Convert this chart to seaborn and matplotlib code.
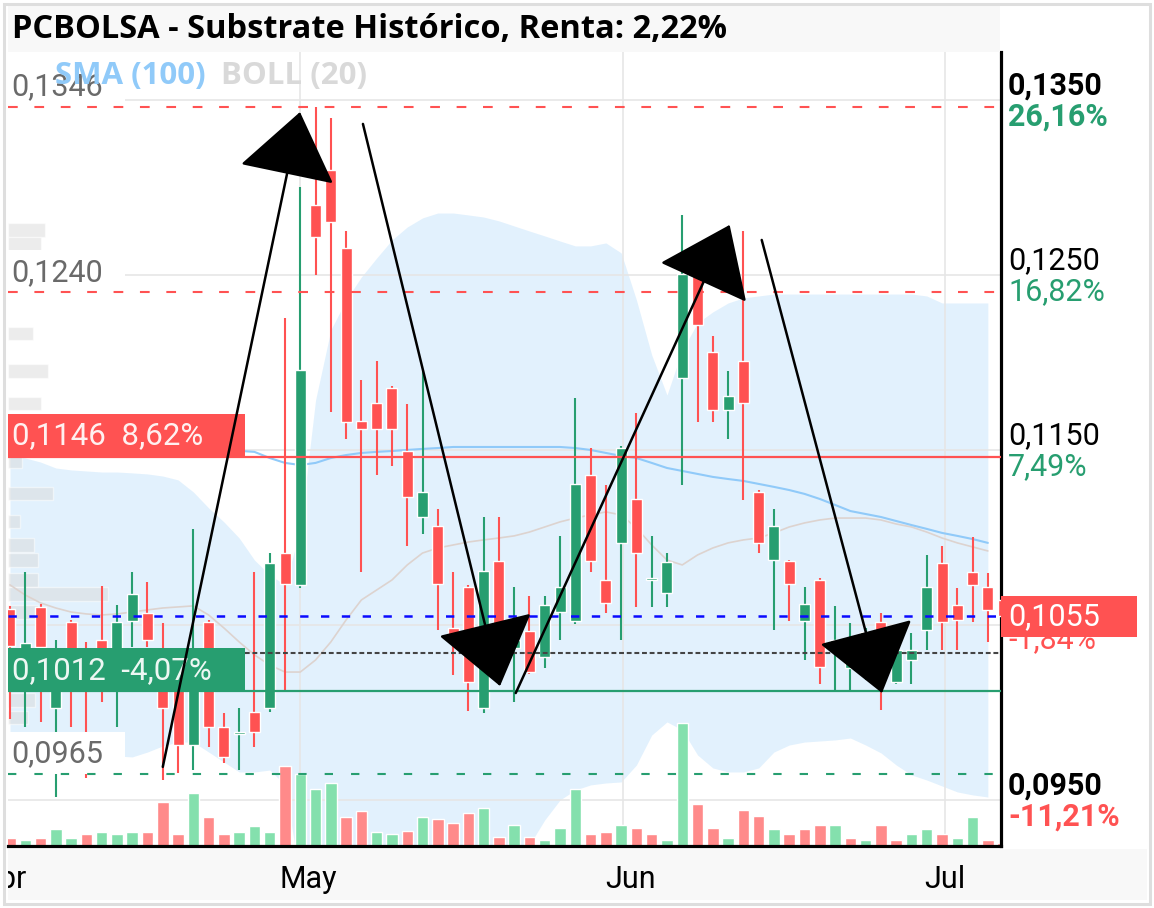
import numpy as np
import matplotlib
matplotlib.use("Agg")
import matplotlib.pyplot as plt
import matplotlib.transforms as mtransforms
from matplotlib.patches import Rectangle, FancyArrowPatch, ArrowStyle
import seaborn as sns

# ---------------- data ----------------
opens = [0.10590, 0.10300, 0.10603, 0.10026, 0.10517, 0.10329, 0.10414, 0.10243, 0.10523, 0.10569,
         0.10186, 0.10140, 0.09814, 0.10517, 0.09917, 0.09877, 0.10003, 0.10026, 0.10911, 0.10729,
         0.12900, 0.13100, 0.12654, 0.11666, 0.11769, 0.11854, 0.11494, 0.11117, 0.11066, 0.10483,
         0.10717, 0.10026, 0.10864, 0.10369, 0.10466, 0.10317, 0.10574, 0.10523, 0.11357, 0.10757,
         0.10969, 0.11220, 0.10757, 0.10683, 0.11911, 0.12500, 0.12060, 0.11729, 0.12009, 0.11260,
         0.10871, 0.10864, 0.10523, 0.10757, 0.10369, 0.10254, 0.10357, 0.10517, 0.10174, 0.10300,
         0.10471, 0.10854, 0.10614, 0.10803, 0.10717, 0.10643]
highs = [0.10610, 0.10803, 0.10620, 0.10414, 0.10529, 0.10403, 0.10721, 0.10614, 0.10803, 0.10746,
         0.10511, 0.10157, 0.11049, 0.10529, 0.09997, 0.10026, 0.10803, 0.10911, 0.12254, 0.13003,
         0.13460, 0.13397, 0.12751, 0.11900, 0.12009, 0.11866, 0.11763, 0.11951, 0.11163, 0.10803,
         0.10729, 0.11117, 0.11117, 0.10717, 0.10666, 0.10666, 0.11009, 0.11797, 0.11511, 0.11300,
         0.11523, 0.11711, 0.11009, 0.10911, 0.12843, 0.12574, 0.12151, 0.11951, 0.12751, 0.11271,
         0.11163, 0.10874, 0.10717, 0.10769, 0.10609, 0.10511, 0.10483, 0.10569, 0.10414, 0.10454,
         0.10900, 0.10951, 0.10711, 0.11003, 0.10797, 0.10660]
lows = [0.09960, 0.09917, 0.09946, 0.09517, 0.09917, 0.09626, 0.10060, 0.09917, 0.10374, 0.10374,
        0.09614, 0.09654, 0.09671, 0.09803, 0.09711, 0.09671, 0.09803, 0.10003, 0.10117, 0.10711,
        0.12500, 0.11717, 0.11563, 0.10803, 0.11357, 0.11409, 0.10951, 0.11020, 0.10471, 0.10214,
        0.10009, 0.09997, 0.10214, 0.10060, 0.10220, 0.10254, 0.10414, 0.10506, 0.10803, 0.10569,
        0.10414, 0.10603, 0.10603, 0.10603, 0.11300, 0.11660, 0.11660, 0.11563, 0.11214, 0.10911,
        0.10471, 0.10523, 0.10300, 0.10163, 0.10123, 0.10123, 0.10186, 0.10014, 0.10163, 0.10163,
        0.10357, 0.10357, 0.10357, 0.10517, 0.10403, 0.10400]
closes = [0.10380, 0.10397, 0.10374, 0.10197, 0.10271, 0.10243, 0.10254, 0.10517, 0.10677, 0.10414,
          0.10026, 0.09814, 0.10243, 0.09917, 0.09746, 0.09889, 0.09889, 0.10854, 0.10734, 0.11957,
          0.12717, 0.12803, 0.11660, 0.11620, 0.11620, 0.11620, 0.11231, 0.11260, 0.10734, 0.10414,
          0.10174, 0.10809, 0.10300, 0.10414, 0.10231, 0.10614, 0.10717, 0.11306, 0.10866, 0.10626,
          0.11511, 0.10911, 0.10769, 0.10860, 0.12506, 0.12214, 0.11729, 0.11809, 0.11769, 0.10969,
          0.11066, 0.10734, 0.10620, 0.10260, 0.10414, 0.10300, 0.10460, 0.10300, 0.10357, 0.10357,
          0.10717, 0.10517, 0.10529, 0.10729, 0.10586, 0.10550]

# volume in arbitrary units (max ~123)
volumes = [8, 6, 8, 17, 8, 12, 14, 12, 14, 14,
           44, 12, 53, 29, 12, 14, 20, 14, 80, 72,
           57, 63, 29, 35, 14, 12, 15, 29, 27, 23,
           33, 38, 9, 21, 9, 6, 18, 57, 12, 14,
           21, 18, 12, 6, 123, 42, 18, 8, 36, 30,
           17, 12, 17, 21, 21, 8, 6, 21, 6, 12,
           17, 12, 8, 29, 6, 3]
volume_up = [0, 1, 0, 1, 1, 0, 1, 1, 1, 0,
             0, 0, 1, 0, 0, 1, 1, 1, 0, 1,
             1, 1, 0, 0, 1, 1, 0, 1, 0, 0,
             0, 1, 0, 1, 0, 1, 1, 1, 0, 0,
             1, 0, 0, 1, 1, 0, 0, 1, 0, 0,
             1, 0, 0, 0, 1, 0, 1, 0, 0, 1,
             1, 0, 1, 1, 0, 0]

boll_upper = [0.11471, 0.11454, 0.11431, 0.11397, 0.11386, 0.11380, 0.11374, 0.11374, 0.11369, 0.11363,
              0.11351, 0.11329, 0.11260, 0.11169, 0.11089, 0.10997, 0.10871, 0.10786, 0.10729, 0.11043,
              0.11786, 0.12186, 0.12357, 0.12489, 0.12597, 0.12700, 0.12774, 0.12826, 0.12854, 0.12854,
              0.12843, 0.12831, 0.12809, 0.12780, 0.12751, 0.12723, 0.12694, 0.12666, 0.12666, 0.12683,
              0.12626, 0.12357, 0.12043, 0.11814, 0.12071, 0.12226, 0.12289, 0.12340, 0.12369, 0.12380,
              0.12391, 0.12391, 0.12391, 0.12391, 0.12391, 0.12391, 0.12391, 0.12391, 0.12391, 0.12391,
              0.12380, 0.12340, 0.12340, 0.12340, 0.12340]
boll_mid = [0.10729, 0.10671, 0.10626, 0.10597, 0.10574, 0.10563, 0.10557, 0.10563, 0.10574, 0.10586,
            0.10597, 0.10603, 0.10609, 0.10557, 0.10483, 0.10403, 0.10329, 0.10271, 0.10231, 0.10231,
            0.10300, 0.10403, 0.10529, 0.10643, 0.10700, 0.10757, 0.10843, 0.10911, 0.10940, 0.10957,
            0.10974, 0.10986, 0.10997, 0.11009, 0.11031, 0.11060, 0.11089, 0.11111, 0.11129, 0.11146,
            0.11129, 0.11054, 0.10957, 0.10871, 0.10843, 0.10900, 0.10940, 0.10969, 0.10986, 0.10997,
            0.11026, 0.11060, 0.11083, 0.11100, 0.11111, 0.11111, 0.11111, 0.11100, 0.11077, 0.11060,
            0.11031, 0.10997, 0.10969, 0.10946, 0.10923]
boll_lower = [0.09797, 0.09809, 0.09809, 0.09797, 0.09786, 0.09774, 0.09763, 0.09751, 0.09746, 0.09774,
              0.09809, 0.09831, 0.09831, 0.09774, 0.09717, 0.09660, 0.09660, 0.09671, 0.09586, 0.09043,
              0.08929, 0.08814, 0.08757, 0.08729, 0.08700, 0.08700, 0.08700, 0.08729, 0.08757, 0.08814,
              0.08871, 0.08929, 0.08986, 0.09100, 0.09243, 0.09386, 0.09500, 0.09557, 0.09586, 0.09597,
              0.09603, 0.09700, 0.09871, 0.09946, 0.09900, 0.09757, 0.09683, 0.09660, 0.09660, 0.09683,
              0.09774, 0.09814, 0.09831, 0.09837, 0.09843, 0.09854, 0.09814, 0.09769, 0.09700, 0.09643,
              0.09614, 0.09580, 0.09546, 0.09529, 0.09517]
sma100 = [0.11500, 0.11500, 0.11500, 0.11500, 0.11500, 0.11500, 0.11500, 0.11500, 0.11500, 0.11500,
          0.11500, 0.11500, 0.11500, 0.11500, 0.11500, 0.11495, 0.11489, 0.11454, 0.11426, 0.11414,
          0.11426, 0.11454, 0.11471, 0.11483, 0.11489, 0.11494, 0.11500, 0.11506, 0.11511, 0.11517,
          0.11517, 0.11517, 0.11517, 0.11517, 0.11517, 0.11517, 0.11517, 0.11511, 0.11500, 0.11483,
          0.11466, 0.11454, 0.11426, 0.11397, 0.11380, 0.11363, 0.11346, 0.11334, 0.11323, 0.11306,
          0.11289, 0.11271, 0.11249, 0.11220, 0.11186, 0.11151, 0.11134, 0.11117, 0.11094, 0.11071,
          0.11049, 0.11026, 0.11009, 0.10991, 0.10969]

# volume-at-price profile on the left edge
profile_price = [0.12757, 0.12677, 0.12163, 0.11951, 0.11763, 0.11437, 0.11249, 0.11089,
                 0.10957, 0.10871, 0.10757, 0.10677, 0.10574, 0.10071, 0.09969]
profile_size = [37, 33, 25, 40, 33, 14, 45, 12, 26, 30, 30, 100, 30, 27, 20]

# horizontal levels
level_high = [0.1346, 0.1240]
level_low = 0.0965
level_resist = 0.1146
level_support = 0.1012
level_avg = 0.1034
last_price = 0.1055

# drawn trend arrows: (x start, price start, x end, price end)
arrows = [(10.0, 0.09689, 18.98, 0.13431),
          (23.1, 0.13363, 32.07, 0.10151),
          (33.1, 0.10111, 47.1, 0.12786),
          (49.2, 0.12700, 57.07, 0.10111)]

right_ticks = [0.1350, 0.1250, 0.1150, 0.0950]
right_pcts = ["26,16%", "16,82%", "7,49%", "-11,21%"]
grid_prices = [0.1350, 0.1250, 0.1150, 0.1050, 0.0950]
month_grid = [19.0, 40.1, 61.2]
month_names = ["Apr", "May", "Jun", "Jul"]
month_label_pos = [-0.45, 19.5, 40.6, 61.2]

RED = "#ff5252"
GREEN = "#279e70"
VOL_RED = "#ff8a8a"
VOL_GREEN = "#84e0ad"
W, H = 1154, 908


def fmt(v):
    return f"{v:.4f}".replace(".", ",")


def px_rect(x0, y0, x1, y1):
    return [x0 / W, 1 - y1 / H, (x1 - x0) / W, (y1 - y0) / H]


sns.set_theme(style="white")
plt.rcParams["font.family"] = ["Roboto", "DejaVu Sans"]
plt.rcParams["lines.scale_dashes"] = False

fig = plt.figure(figsize=(W / 100, H / 100), dpi=100)
fig.patch.set_facecolor("white")

ax = fig.add_axes(px_rect(8, 52, 1001, 846))
ax.set_xlim(-0.13, 64.86)
ax.set_ylim(0.09237, 0.13774)
ax.set_facecolor("white")
for side in ["left", "top"]:
    ax.spines[side].set_visible(False)
for side in ["right", "bottom"]:
    ax.spines[side].set_color("black")
    ax.spines[side].set_linewidth(2.3)
ax.set_xticks([])
ax.set_yticks([])

idx = np.arange(len(opens))
bidx = np.arange(len(boll_upper))
ptrans = ax.get_yaxis_transform()   # x in axes fraction, y in price
xtrans = ax.get_xaxis_transform()   # x in data, y in axes fraction

# grid
for g in grid_prices:
    ax.axhline(g, color="#e6e6e6", lw=1.2, zorder=0.6)
for m in month_grid:
    ax.axvline(m, color="#e6e6e6", lw=1.2, zorder=0.6)

# bollinger band + lines
ax.fill_between(bidx, boll_lower, boll_upper, color="#2196f3", alpha=0.13, lw=0, zorder=0.5)
sns.lineplot(x=bidx, y=boll_mid, ax=ax, color="#ddd3cf", lw=1.2, zorder=1.5)
sns.lineplot(x=bidx, y=sma100, ax=ax, color="#90caf9", lw=1.5, zorder=1.5)

# volume profile on the left
ax.barh(profile_price, np.array(profile_size) / 993, height=0.00075, left=0,
        color="#dadada", alpha=0.5, transform=ptrans, zorder=0.8)

# volume bars at the bottom
VOL_TOP = 794
vcols = [VOL_GREEN if u else VOL_RED for u in volume_up]
ax.bar(idx, np.array(volumes) / VOL_TOP, width=0.75, bottom=0, color=vcols,
       transform=xtrans, zorder=1.2)

# candles
o = np.array(opens); c = np.array(closes)
ccols = [GREEN if cc >= oo else RED for oo, cc in zip(o, c)]
ax.vlines(idx, lows, highs, colors=ccols, lw=1.5, zorder=3)
body = np.maximum(np.abs(c - o), 0.00008)
ax.bar(idx, body, bottom=np.minimum(o, c), width=0.72, color=ccols, zorder=3.1)

# gray level labels on the left, with white backing
for lv in [level_high[0], level_high[1], level_low]:
    ax.add_patch(Rectangle((0, lv), 117 / 993, 0.0024, transform=ptrans,
                           facecolor="white", edgecolor="none", zorder=3.5))
    ax.annotate(fmt(lv), xy=(0, lv), xycoords=ptrans, xytext=(3, 20), textcoords="offset pixels",
                ha="left", va="center", fontsize=22, color="#6a6a6a", zorder=3.55)

# level lines
for lv in level_high:
    ax.axhline(lv, color=RED, lw=1.5, ls=(0, (7, 12)), zorder=3.6)
ax.axhline(level_low, color=GREEN, lw=1.5, ls=(0, (6, 13)), zorder=3.6)
ax.axhline(last_price, color="#0a0aff", lw=1.8, ls=(0, (6, 9)), zorder=3.6)
ax.axhline(level_avg, color="#444444", lw=1.5, ls=(0, (3.5, 2)), zorder=3.6)
ax.axhline(level_resist, color=RED, lw=1.6, zorder=3.6)
ax.axhline(level_support, color=GREEN, lw=1.6, zorder=3.6)

# coloured boxes for resistance / support
for lv, txt, col in [(level_resist, fmt(level_resist) + "  8,62%", RED),
                     (level_support, fmt(level_support) + "  -4,07%", GREEN)]:
    ax.add_patch(Rectangle((0, lv), 237 / 993, 0.00246, transform=ptrans,
                           facecolor=col, edgecolor="none", zorder=4))
    ax.annotate(txt, xy=(0, lv), xycoords=ptrans, xytext=(4, 21), textcoords="offset pixels",
                ha="left", va="center", fontsize=22.5, color="white", alpha=0.92, zorder=4.1)

# arrows
for x0, y0, x1, y1 in arrows:
    arr = FancyArrowPatch((x0, y0), (x1, y1),
                          arrowstyle=ArrowStyle("-|>", head_length=43, head_width=32),
                          mutation_scale=1, color="black", lw=1.8,
                          shrinkA=0, shrinkB=0, zorder=5)
    ax.add_patch(arr)

# legend text
ax.text(47 / 993, 0.13774 - 24 / 17500, "SMA (100)", transform=ptrans, color="#90caf9",
        fontsize=22.5, fontweight="bold", family=["Open Sans", "DejaVu Sans"], va="center", zorder=6)
ax.text(213 / 993, 0.13774 - 24 / 17500, "BOLL (20)", transform=ptrans, color="#d9d9d9",
        fontsize=22.5, fontweight="bold", family=["Open Sans", "DejaVu Sans"], va="center", zorder=6)

# right axis labels
for t, p in zip(right_ticks, right_pcts):
    bold = t in (right_ticks[0], right_ticks[-1])
    pcol = GREEN if not p.startswith("-") else RED
    ax.annotate(fmt(t), xy=(1, t), xycoords=ptrans, xytext=(7, 14), textcoords="offset pixels",
                ha="left", va="center", fontsize=22, color="black",
                fontweight="bold" if bold else "normal", annotation_clip=False)
    ax.annotate(p, xy=(1, t), xycoords=ptrans, xytext=(7, -17), textcoords="offset pixels",
                ha="left", va="center", fontsize=22, color=pcol,
                fontweight="bold" if bold else "normal", annotation_clip=False)

# current price box
ax.annotate("-1,84%", xy=(1, last_price), xycoords=ptrans, xytext=(7, -23),
            textcoords="offset pixels", ha="left", va="center", fontsize=22, color=RED,
            annotation_clip=False, zorder=6)
ax.add_patch(Rectangle((1, last_price - 0.00117), 136 / 993, 0.00234, transform=ptrans,
                       facecolor=RED, edgecolor="none", zorder=7, clip_on=False))
ax.annotate(fmt(last_price), xy=(1, last_price), xycoords=ptrans, xytext=(7, 0),
            textcoords="offset pixels", ha="left", va="center", fontsize=22, color="white",
            annotation_clip=False, zorder=8)

# title bar
tax = fig.add_axes(px_rect(8, 5, 1000, 52))
tax.set_facecolor("#f8f8f8")
tax.set_xticks([]); tax.set_yticks([])
for s in tax.spines.values():
    s.set_visible(False)
tax.text(0.004, 0.48, "PCBOLSA - Substrate Histórico, Renta: 2,22%", transform=tax.transAxes,
         ha="left", va="center", fontsize=23.5, fontweight="bold", color="black",
         family=["Open Sans", "DejaVu Sans"])

# bottom date strip
bax = fig.add_axes(px_rect(8, 849, 1147, 900))
bax.set_facecolor("#f8f8f8")
bax.set_xticks([]); bax.set_yticks([])
for s in bax.spines.values():
    s.set_visible(False)
btrans = mtransforms.blended_transform_factory(ax.transData, bax.transAxes)
for pos, name in zip(month_label_pos, month_names):
    bax.text(pos, 0.24, name, transform=btrans, ha="center", va="baseline",
             fontsize=22, color="black", clip_on=True)

# outer frame
fig.patches.append(Rectangle((4 / W, 1 - 904 / H), 1146 / W, 900 / H, transform=fig.transFigure,
                             fill=False, edgecolor="#dedede", lw=2.2))

fig.savefig("out.png", dpi=100)
